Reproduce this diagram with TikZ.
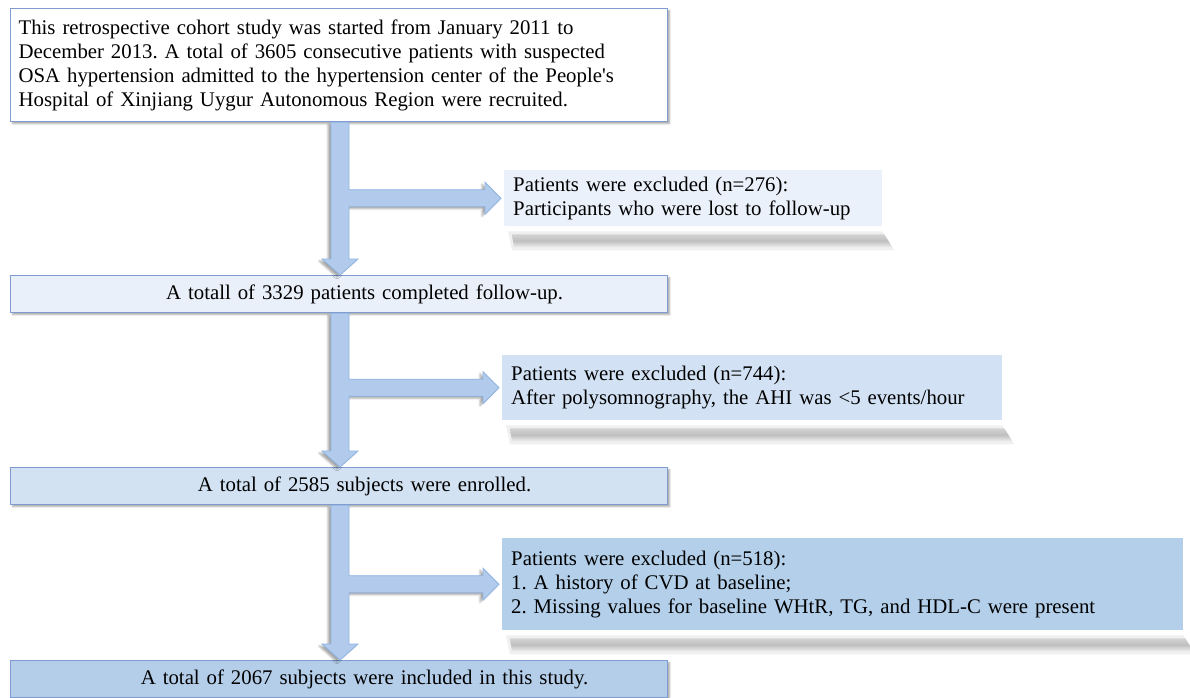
\documentclass[tikz,border=0pt]{standalone}
\usepackage{fontspec}
\setmainfont{Liberation Serif}
\frenchspacing
\usetikzlibrary{calc,shadows.blur}
\definecolor{bordc}{HTML}{7F9BD0}
\definecolor{fillA}{HTML}{FFFFFF}
\definecolor{fillB}{HTML}{EAF0F9}
\definecolor{fillC}{HTML}{D2E2F3}
\definecolor{fillD}{HTML}{B4CEEA}
\definecolor{exA}{HTML}{EBF1FA}
\definecolor{exB}{HTML}{D2E2F4}
\definecolor{exC}{HTML}{B3CFEA}
\definecolor{arrc}{HTML}{B2CBEC}
\definecolor{arrd}{HTML}{8FB3E3}
\tikzset{
  mainbox/.style={draw=bordc, line width=1.2pt, inner xsep=8pt, inner ysep=0pt,
    anchor=north west, text width=641pt, minimum height=37pt,
    blur shadow={shadow xshift=2pt, shadow yshift=-2pt, shadow opacity=35, shadow blur steps=4}},
  exbox/.style={anchor=north west, inner xsep=9pt, inner ysep=0pt, align=left},
  arrowbody/.style={fill=arrc, draw=arrd, line width=0.8pt,
    blur shadow={shadow xshift=-3pt, shadow yshift=-2pt, shadow opacity=35, shadow blur steps=4}},
  floorshadow/.style={top color=gray!35, bottom color=gray!12, middle color=gray!50},
  floorhalo/.style={fill=gray!12}
}
\newcommand{\branchArrow}[3]{%
  \path[arrowbody] let \p1=(#1.south), \p2=(#2.north), \p3=(#3.west) in
    (331pt,\y1) -- (349pt,\y1) -- (349pt,{\y3+8.5pt}) -- ({\x3-19pt},{\y3+8.5pt})
    -- ({\x3-19pt},{\y3+16pt}) -- ({\x3-3pt},\y3) -- ({\x3-19pt},{\y3-16pt})
    -- ({\x3-19pt},{\y3-8.5pt}) -- (349pt,{\y3-8.5pt}) -- (349pt,{\y2+16pt})
    -- (358pt,{\y2+16pt}) -- (340pt,\y2) -- (322pt,{\y2+16pt}) -- (331pt,{\y2+16pt}) -- cycle;}
\newcommand{\floorShadow}[1]{%
  \path[floorhalo] ($(#1.south west)+(4,5)$) -- ($(#1.south east)+(0,5)$)
    -- ($(#1.south east)+(12,24)$) -- ($(#1.south west)+(8,24)$) -- cycle;
  \path[floorshadow] ($(#1.south west)+(8,8)$) -- ($(#1.south east)+(2,8)$)
    -- ($(#1.south east)+(10,21)$) -- ($(#1.south west)+(10,21)$) -- cycle;}
\begin{document}
\begin{tikzpicture}[x=1pt,y=-1pt,font=\fontsize{20.8}{24}\selectfont]
\useasboundingbox (0,0) rectangle (1190,697);
% main boxes
\node[mainbox, fill=fillA, minimum height=113pt, align=left] (b1) at (10,8)
  {This retrospective cohort study was started from January 2011 to\\
   December 2013. A total of 3605 consecutive patients with suspected\\
   OSA hypertension admitted to the hypertension center of the People\textquotesingle s\\
   Hospital of Xinjiang Uygur Autonomous Region were recruited.};
\node[mainbox, fill=fillB, align=center] (b2) at (10,275)
  {\hspace*{51pt}A totall of 3329 patients completed follow-up.};
\node[mainbox, fill=fillC, align=center] (b3) at (10,467)
  {\hspace*{51pt}A total of 2585 subjects were enrolled.};
\node[mainbox, fill=fillD, align=center] (b4) at (10,660)
  {\hspace*{51pt}A total of 2067 subjects were included in this study.};
% exclusion boxes
\node[exbox, fill=exA, minimum width=378pt, minimum height=56pt, text width=360pt] (e1) at (504,170)
  {Patients were excluded (n=276):\\Participants who were lost to follow-up};
\node[exbox, fill=exB, minimum width=500pt, minimum height=65pt, text width=482pt] (e2) at (502,355)
  {Patients were excluded (n=744):\\After polysomnography, the AHI was <5 events/hour};
\node[exbox, fill=exC, minimum width=681pt, minimum height=92pt, text width=663pt] (e3) at (502,538)
  {Patients were excluded (n=518):\\1. A history of CVD at baseline;\\2. Missing values for baseline WHtR, TG, and HDL-C were present};
\floorShadow{e1}
\floorShadow{e2}
\floorShadow{e3}
% arrows
\branchArrow{b1}{b2}{e1}
\branchArrow{b2}{b3}{e2}
\branchArrow{b3}{b4}{e3}
\end{tikzpicture}
\end{document}
